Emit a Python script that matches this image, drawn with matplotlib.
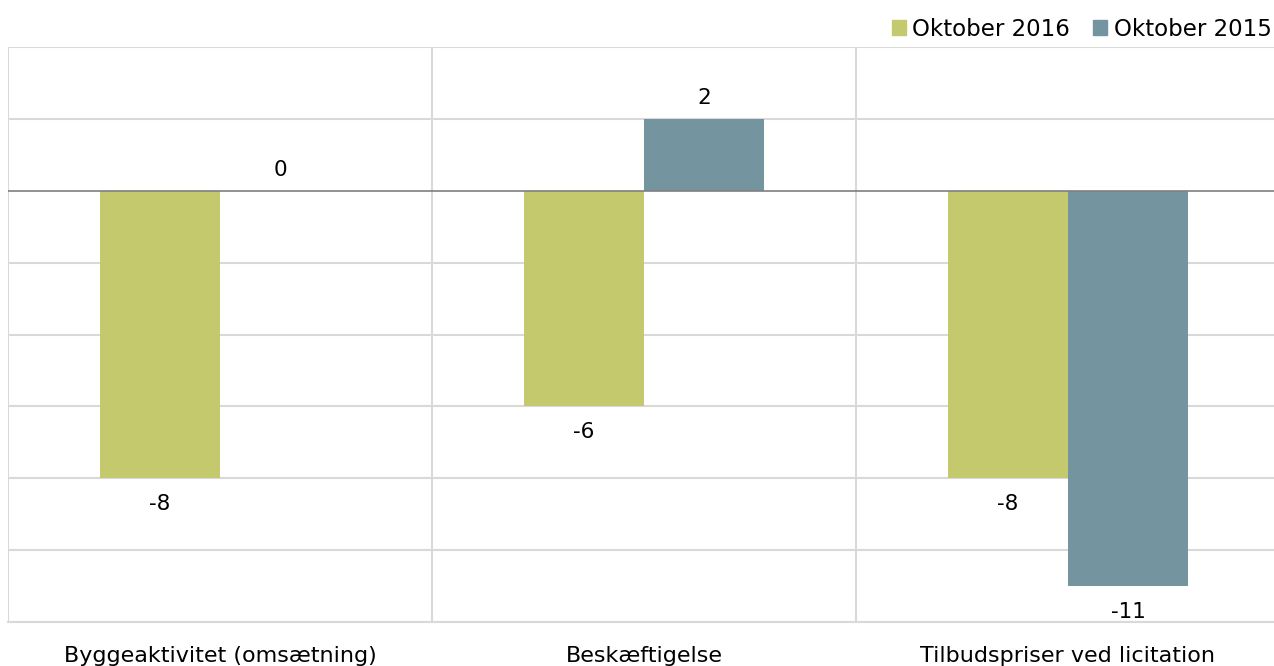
import numpy as np
import matplotlib.pyplot as plt
from matplotlib.patches import Patch

# Data
kategorier = ["Byggeaktivitet (omsætning)", "Beskæftigelse", "Tilbudspriser ved licitation"]
okt_2016 = [-8, -6, -8]
okt_2015 = [0, 2, -11]
serier = ["Oktober 2016", "Oktober 2015"]
farver = ["#C5C96E", "#7495A0"]

fig = plt.figure(figsize=(12.74, 6.66), dpi=100)
ax = fig.add_axes([8 / 1274, 44 / 666, 1272 / 1274, 575 / 666])

x = np.arange(len(kategorier))
bredde = 0.283

for i, (vals, farve) in enumerate(zip([okt_2016, okt_2015], farver)):
    pos = x + (i - 0.5) * bredde
    ax.bar(pos, vals, width=bredde, color=farve, align="center", zorder=3)
    for p, v in zip(pos, vals):
        dy = -26 if v < 0 else 21
        ax.annotate(f"{v}", xy=(p, v), xytext=(0, dy), textcoords="offset pixels",
                    ha="center", va="center", fontsize=15.5, color="#000000")

ax.set_xlim(-0.5, 2.5)
ax.set_ylim(-12, 4)

# Gitterlinjer
for y in range(-12, 5, 2):
    if y == 0:
        continue
    ax.axhline(y, color="#D9D9D9", linewidth=1.5, zorder=1)
ax.axhline(0, color="#7F7F7F", linewidth=1.2, zorder=4)
for xv in [-0.5, 0.5, 1.5]:
    ax.axvline(xv, color="#D9D9D9", linewidth=1.5, zorder=1)

for side in ["top", "right", "left"]:
    ax.spines[side].set_visible(False)
ax.spines["bottom"].set_color("#D9D9D9")
ax.spines["bottom"].set_linewidth(1.5)

ax.set_yticks([])
ax.set_xticks(x)
ax.set_xticklabels(kategorier, fontsize=16)
ax.tick_params(axis="x", length=0, pad=17)

handles = [Patch(color=f) for f in farver]
fig.legend(handles, serier, loc="center right", bbox_to_anchor=(1274 / 1274, 1 - 29 / 666),
           frameon=False, ncol=2, fontsize=16.5, handlelength=0.6, handleheight=0.6,
           handletextpad=0.3, columnspacing=1.0, borderaxespad=0.0, borderpad=0.1)

fig.savefig("out.png", dpi=100)
